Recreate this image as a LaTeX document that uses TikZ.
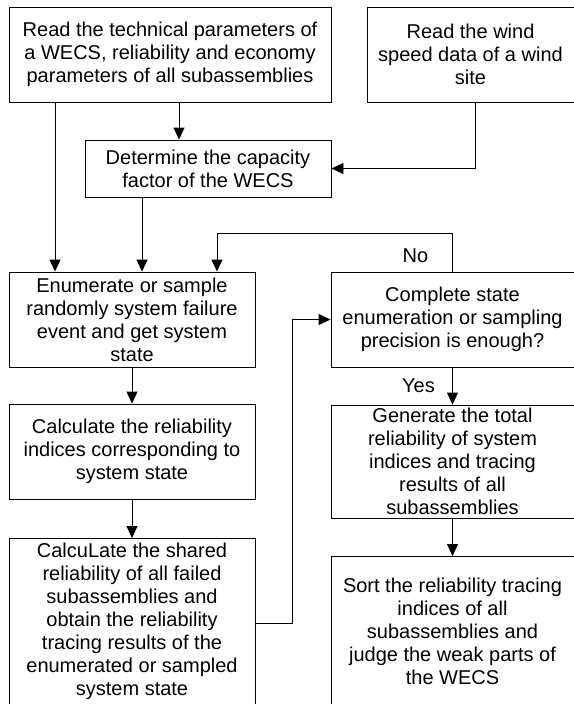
\documentclass[tikz,border=0pt]{standalone}
\usepackage{fontspec}
\setmainfont{Liberation Sans}
\usetikzlibrary{arrows.meta}
\newcommand{\flowfont}{\fontsize{20}{23}\selectfont}
\tikzset{
  procbox/.style={draw, line width=0.9pt, align=center, inner sep=0pt, font=\flowfont},
  flowarrow/.style={line width=0.9pt, -{Triangle[length=12pt,width=11pt]}},
  flowlabel/.style={font=\flowfont, inner sep=0pt, anchor=base},
}

\begin{document}
\begin{tikzpicture}[x=1pt, y=-1pt]
\useasboundingbox (0,0) rectangle (573,704);
% top row
\node[procbox, minimum width=322pt, minimum height=95pt] (readpar) at (170,54.5) {Read the technical parameters of\\a WECS, reliability and economy\\parameters of all subassemblies};
\node[procbox, minimum width=207pt, minimum height=95pt] (windsp) at (470.5,54.5) {Read the wind\\speed data of a wind\\site};
\node[procbox, minimum width=246pt, minimum height=57pt] (capfac) at (208,168.5) {Determine the capacity\\factor of the WECS};
% left column
\node[procbox, minimum width=246pt, minimum height=95pt] (enumst) at (132,319.5) {Enumerate or sample\\randomly system failure\\event and get system\\state};
\node[procbox, minimum width=246pt, minimum height=95pt] (calcidx) at (132,451.5) {Calculate the reliability\\indices corresponding to\\system state};
\node[procbox, minimum width=246pt, anchor=north, inner ysep=4.5pt, text depth=200pt] (shared) at (132,538) {CalcuLate the shared\\reliability of all failed\\subassemblies and\\obtain the reliability\\tracing results of the\\enumerated or sampled\\system state};
% right column
\node[procbox, minimum width=243pt, minimum height=95pt] (precchk) at (452.5,319.5) {Complete state\\enumeration or sampling\\precision is enough?};
\node[procbox, minimum width=243pt, minimum height=113pt] (gentot) at (452.5,461.5) {Generate the total\\reliability of system\\indices and tracing\\results of all\\subassemblies};
\node[procbox, minimum width=243pt, anchor=north, inner ysep=22pt, text depth=200pt] (sortw) at (452.5,556) {Sort the reliability tracing\\indices of all\\subassemblies and\\judge the weak parts of\\the WECS};
% connectors
\draw[flowarrow] ([xshift=9pt]readpar.south) -- ([xshift=9pt]readpar.south |- capfac.north);
\draw[flowarrow] ([xshift=4.5pt]windsp.south) |- (capfac.east);
\draw[flowarrow] ([xshift=-115pt]readpar.south) -- ([xshift=-115pt]readpar.south |- enumst.north);
\draw[flowarrow] ([xshift=-66pt]capfac.south) -- ([xshift=-66pt]capfac.south |- enumst.north);
\draw[flowarrow] (precchk.north) -- ++(0,-38) -| ([xshift=85pt]enumst.north);
\node[flowlabel] (nolbl) at (415.5,262) {No};
\draw[flowarrow] (precchk.south) -- (gentot.north);
\node[flowlabel] (yeslbl) at (418.5,392) {Yes};
\draw[flowarrow] (enumst.south) -- (calcidx.north);
\draw[flowarrow] (calcidx.south) -- (shared.north);
\draw[flowarrow] ([yshift=-85pt]shared.north east) -- ++(37,0) |- (precchk.west);
\draw[flowarrow] (gentot.south) -- (sortw.north);
\end{tikzpicture}
\end{document}
